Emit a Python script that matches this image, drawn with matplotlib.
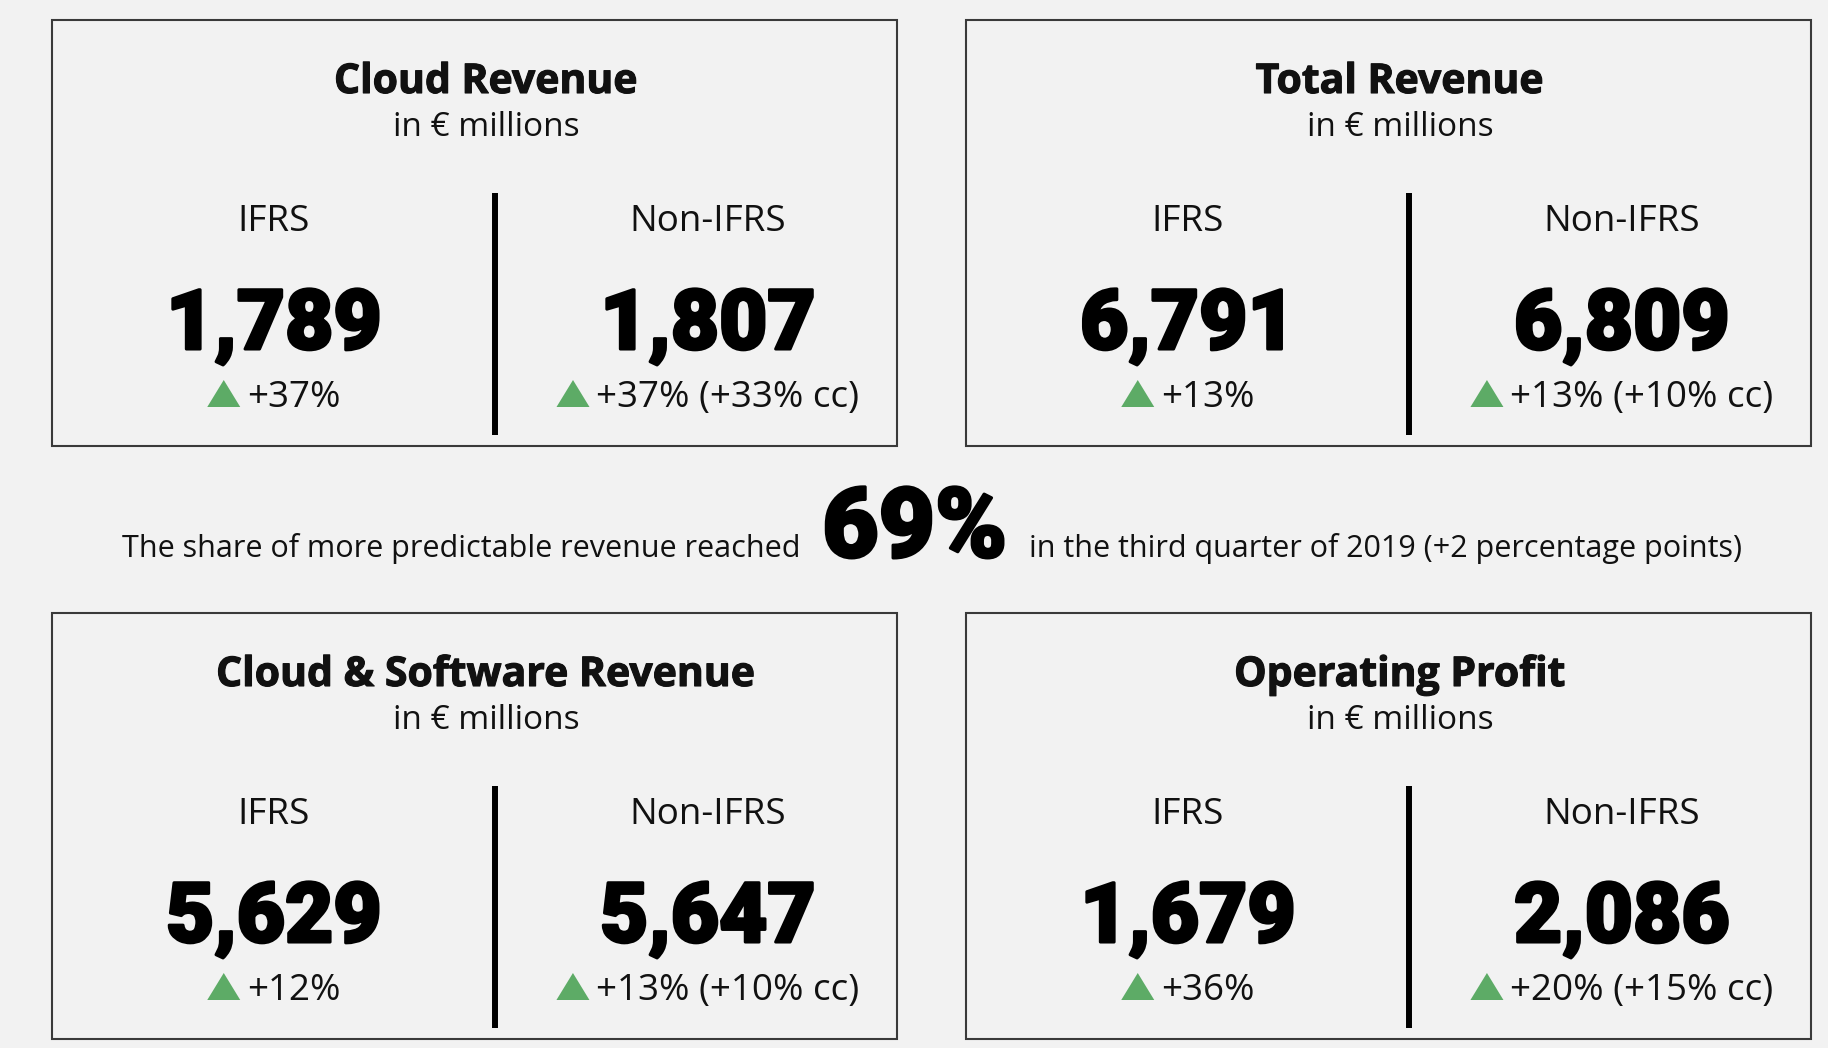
import matplotlib
matplotlib.use("Agg")
import matplotlib.pyplot as plt
import matplotlib.patheffects as pe
from matplotlib.patches import Rectangle, Polygon

# key figures, Q3 2019, in EUR millions
titles = ["Cloud Revenue", "Total Revenue", "Cloud & Software Revenue", "Operating Profit"]
ifrs_values = [1789, 6791, 5629, 1679]
nonifrs_values = [1807, 6809, 5647, 2086]
ifrs_growth = [37, 13, 12, 36]
nonifrs_growth = [37, 13, 13, 20]
nonifrs_cc = [33, 10, 10, 15]
unit_label = "in \u20ac millions"
col_labels = ["IFRS", "Non-IFRS"]

share_value = 69
share_before = "The share of more predictable revenue reached"
share_after = "in the third quarter of 2019 (+2 percentage points)"

W, H = 1828, 1048
BG = "#f2f2f2"
INK = "#111111"
GREEN = "#5dab66"

REG = ["Open Sans", "DejaVu Sans"]
HEAVY = ["Roboto", "DejaVu Sans"]
thick = [pe.withStroke(linewidth=2.2, foreground="black")]
semi = [pe.withStroke(linewidth=0.8, foreground=INK)]

fig = plt.figure(figsize=(W / 100, H / 100), dpi=100, facecolor=BG)
ax = fig.add_axes([0, 0, 1, 1])
ax.set_xlim(0, W)
ax.set_ylim(H, 0)
ax.axis("off")
ax.set_facecolor(BG)
renderer = fig.canvas.get_renderer()


def width_of(t):
    return t.get_window_extent(renderer).width


def change_row(cx, y, label):
    # green triangle followed by the growth text, centred as one group
    t = ax.text(0, y, label, fontsize=26.5, family=REG, color=INK,
                ha="left", va="baseline")
    tw = width_of(t)
    tri_w, tri_h, gap = 33, 27, 7
    x0 = cx - (tri_w + gap + tw) / 2
    ax.add_patch(Polygon([[x0, y], [x0 + tri_w, y], [x0 + tri_w / 2, y - tri_h]],
                         closed=True, facecolor=GREEN, edgecolor="none"))
    t.set_x(x0 + tri_w + gap)


panel_w, panel_h = 845, 426
panel_x = [52, 966, 52, 966]
panel_y = [20, 20, 613, 613]

for i in range(4):
    px, py = panel_x[i], panel_y[i]
    ax.add_patch(Rectangle((px, py), panel_w, panel_h, facecolor="none",
                           edgecolor="#3a3a3a", lw=1.5))
    ax.text(px + 434, py + 73, titles[i], fontsize=29.5, weight="bold", family=REG,
            color=INK, ha="center", va="baseline", path_effects=semi)
    ax.text(px + 434, py + 116, unit_label, fontsize=24, family=REG,
            color=INK, ha="center", va="baseline")
    ax.plot([px + 443, px + 443], [py + 173, py + 415], color="black", lw=4.3,
            solid_capstyle="butt")

    left_c, right_c = px + 222, px + 656
    ax.text(left_c, py + 211, col_labels[0], fontsize=26.5, family=REG, color=INK,
            ha="center", va="baseline")
    ax.text(right_c, py + 211, col_labels[1], fontsize=26.5, family=REG, color=INK,
            ha="center", va="baseline")
    ax.text(left_c, py + 329, f"{ifrs_values[i]:,}", fontsize=60, weight="black",
            family=HEAVY, color="black", ha="center", va="baseline",
            path_effects=thick)
    ax.text(right_c, py + 329, f"{nonifrs_values[i]:,}", fontsize=60, weight="black",
            family=HEAVY, color="black", ha="center", va="baseline",
            path_effects=thick)
    change_row(left_c, py + 387, f"+{ifrs_growth[i]}%")
    change_row(right_c, py + 387, f"+{nonifrs_growth[i]}% (+{nonifrs_cc[i]}% cc)")

# middle line with the big share figure
mid_y = 557
t1 = ax.text(0, mid_y, share_before, fontsize=22, family=REG, color=INK,
             ha="left", va="baseline")
t2 = ax.text(0, mid_y, f"{share_value}%", fontsize=70, weight="black", family=HEAVY,
             color="black", ha="left", va="baseline", path_effects=thick)
t3 = ax.text(0, mid_y, share_after, fontsize=22, family=REG, color=INK,
             ha="left", va="baseline")
gap = 22
w1, w2, w3 = width_of(t1), width_of(t2), width_of(t3)
start = 932 - (w1 + w2 + w3 + 2 * gap) / 2
t1.set_x(start)
t2.set_x(start + w1 + gap)
t3.set_x(start + w1 + gap + w2 + gap)

fig.savefig("out.png", dpi=100, facecolor=BG)
